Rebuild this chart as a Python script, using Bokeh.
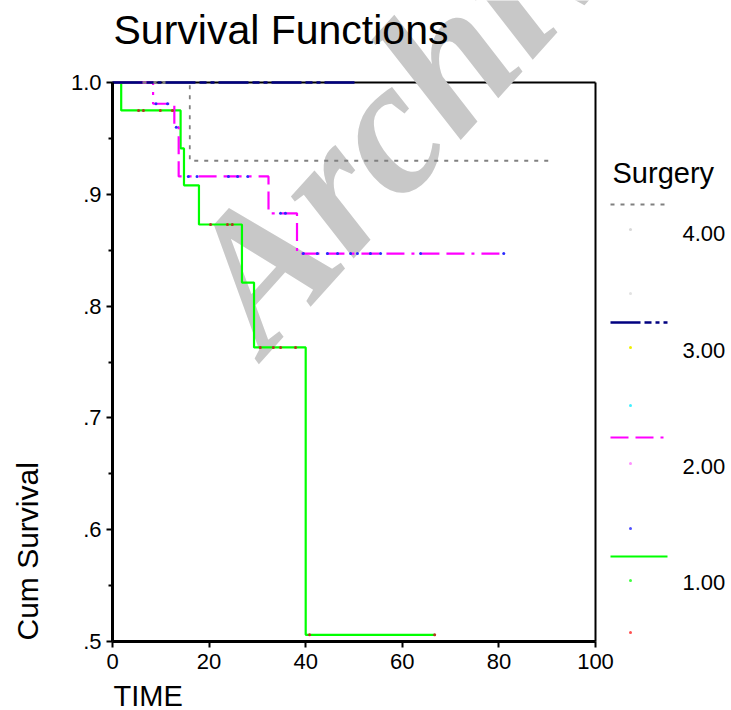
from bokeh.plotting import figure
from bokeh.models import Range1d, FixedTicker, CustomJSTickFormatter, Label, LinearAxis
from bokeh.core.properties import value
from bokeh.embed import file_html
from bokeh.resources import INLINE

# ---------------- data ----------------
group_labels = ["4.00", "3.00", "2.00", "1.00"]

g1_time = [0, 1.8, 14.1, 14.8, 17.9, 26.8, 29.3, 40.0]
g1_surv = [1.0, 0.975, 0.941, 0.908, 0.873, 0.821, 0.763, 0.506]
g1_end = 66.7

g2_time = [0, 8.4, 12.8, 13.7, 32.3, 38.2]
g2_surv = [1.0, 0.981, 0.960, 0.916, 0.883, 0.847]
g2_end = 81.0

g3_time = [0]
g3_surv = [1.0]
g3_end = 50.9

g4_time = [0, 16.0]
g4_surv = [1.0, 0.930]
g4_end = 90.3

g1_cens_time = [5.4, 6.4, 9.9, 12.4, 20.3, 23.8, 24.8, 30.6, 33.3, 34.8, 37.9, 40.8, 66.7]
g1_cens_surv = [0.975, 0.975, 0.975, 0.975, 0.873, 0.873, 0.873, 0.763, 0.763, 0.763, 0.763, 0.506, 0.506]

g2_cens_time = [9.0, 11.4, 13.2, 15.7, 17.5, 24.0, 25.9, 28.0, 34.8, 35.8, 39.5, 42.4, 44.5,
                46.6, 49.3, 50.7, 53.4, 55.5, 63.8, 81.0]
g2_cens_surv = [0.981, 0.981, 0.960, 0.916, 0.916, 0.916, 0.916, 0.916, 0.883, 0.883, 0.847, 0.847, 0.847,
                0.847, 0.847, 0.847, 0.847, 0.847, 0.847, 0.847]

x_min, x_max = 0, 100
y_min, y_max = 0.5, 1.0
x_ticks = [0, 20, 40, 60, 80, 100]
y_ticks = [0.5, 0.6, 0.7, 0.8, 0.9, 1.0]
y_minor = [0.55, 0.65, 0.75, 0.85, 0.95]

title_text = "Survival Functions"
x_label = "TIME"
y_label = "Cum Survival"
legend_title = "Surgery"
watermark = "Archive"

# ---------------- layout (pixels) & styles ----------------
FONT = "Liberation Sans"
C1, C2, C3, C4 = "#00ff00", "#ff00ff", "#000080", "#808080"
D1, D2, D3, D4 = "solid", "18 7 18 7 3 7", "30 4 7 4 4 4", "4 6"

AX_L, AX_R, AX_T, AX_B = 112, 595, 82, 641     # pixel box of the axes rectangle
W, H = 727, 710
sx = (AX_R - AX_L) / (x_max - x_min)
sy = (AX_B - AX_T) / (y_max - y_min)

def px_x(px):
    return x_min + (px - AX_L) / sx

def px_y(py):
    return y_max - (py - AX_T) / sy

p = figure(width=W, height=H, x_range=Range1d(px_x(0), px_x(W)), y_range=Range1d(px_y(H), px_y(0)),
           output_backend="svg", toolbar_location=None, min_border=0)
p.grid.visible = False
p.outline_line_color = None
p.background_fill_color = "white"
p.border_fill_color = "white"

p.xaxis.ticker = FixedTicker(ticks=x_ticks, minor_ticks=[])
p.xaxis.bounds = (x_min, x_max)
p.xaxis.fixed_location = y_min
p.yaxis.ticker = FixedTicker(ticks=y_ticks, minor_ticks=y_minor)
p.yaxis.bounds = (y_min, y_max)
p.yaxis.fixed_location = x_min
p.yaxis.formatter = CustomJSTickFormatter(code="""
    const s = tick.toFixed(1);
    return tick >= 1 ? s : s.substring(1);
""")
for ax in (p.xaxis[0], p.yaxis[0]):
    ax.axis_line_width = 3
    ax.axis_line_color = "black"
    ax.major_tick_in = 0
    ax.major_tick_out = 6
    ax.major_tick_line_width = 2
    ax.minor_tick_in = 0
    ax.minor_tick_out = 4
    ax.minor_tick_line_width = 2
    ax.major_label_text_font = FONT
    ax.major_label_text_font_size = "22px"
    ax.major_label_text_color = "black"
p.xaxis.minor_tick_line_color = None
p.yaxis.major_label_standoff = 5
p.xaxis.major_label_standoff = 6

# box edges at the top (survival 1.0) and right (time 100)
top_edge = LinearAxis(fixed_location=y_max, bounds=(x_min, x_max), ticker=FixedTicker(ticks=[]),
                      axis_line_width=2, axis_line_color="black", major_label_text_alpha=0,
                      level="underlay")
p.add_layout(top_edge, "above")
right_edge = LinearAxis(fixed_location=x_max, bounds=(y_min, y_max), ticker=FixedTicker(ticks=[]),
                        axis_line_width=2, axis_line_color="black", major_label_text_alpha=0)
p.add_layout(right_edge, "right")

# watermark under the curves
p.add_layout(Label(x=px_x(217), y=px_y(313), text=watermark, angle=48, angle_units="deg",
                   text_font="Liberation Serif", text_font_style="bold italic",
                   text_font_size="192px", text_color="#c8c8c8", text_baseline="alphabetic",
                   level="underlay"))

def steps(t, s, end):
    return list(t) + [end], list(s) + [s[-1]]

x1, y1 = steps(g1_time, g1_surv, g1_end)
x2, y2 = steps(g2_time, g2_surv, g2_end)
x3, y3 = steps(g3_time, g3_surv, g3_end)
x4, y4 = steps(g4_time, g4_surv, g4_end)

p.step(x1, y1, mode="after", line_color=C1, line_width=2.2, line_dash=D1)
p.step(x2, y2, mode="after", line_color=C2, line_width=2.2, line_dash=D2)
p.step(x4, y4, mode="after", line_color=C4, line_width=1.8, line_dash=D4)
p.step(x3, y3, mode="after", line_color=C3, line_width=2.5, line_dash=D3)

p.scatter(g1_cens_time, g1_cens_surv, size=3, color="#b03a20", line_width=0)
p.scatter(g2_cens_time, g2_cens_surv, size=3, color="#2a2aff", line_width=0)

# chart title, axis titles
p.text(x=[px_x(113)], y=[px_y(29)], text=[title_text], text_font=value(FONT), text_font_size="41px",
       text_color="black", text_baseline="middle", text_align="left")
p.text(x=[px_x(113)], y=[px_y(695)], text=[x_label], text_font=value(FONT), text_font_size="29px",
       text_color="black", text_baseline="middle", text_align="left")
p.text(x=[px_x(27)], y=[px_y(640)], text=[y_label], angle=90, angle_units="deg", text_font=value(FONT),
       text_font_size="30px", text_color="black", text_baseline="middle", text_align="left")

# ---------------- legend (pixel layout converted through the plot scales) ----------------
p.text(x=[px_x(612)], y=[px_y(172)], text=[legend_title], text_font=value(FONT), text_font_size="29px",
       text_baseline="middle", text_color="black")

line_rows = [204, 322, 437, 556]
label_rows = [233, 350, 466, 582]
styles = [(C4, D4, 1.8), (C3, D3, 2.5), (C2, D2, 2.2), (C1, D1, 2.2)]
for yy, (c, d, w) in zip(line_rows, styles):
    p.line([px_x(610), px_x(667)], [px_y(yy), px_y(yy)], line_color=c, line_dash=d, line_width=w)
p.text(x=[px_x(682)] * 4, y=[px_y(v) for v in label_rows], text=group_labels, text_font=value(FONT),
       text_font_size="22px", text_baseline="middle", text_color="black")

dot_rows = [229, 293, 347, 405, 463, 528, 580, 632]
dot_colors = ["#d8d8d8", "#e2e2e2", "#f0f000", "#40f0ff", "#ff90ff", "#5050ff", "#40ff40", "#ff5050"]
p.scatter([px_x(630)] * len(dot_rows), [px_y(v) for v in dot_rows], size=3, color=dot_colors, line_width=0)

open("out.html", "w").write(file_html(p, INLINE))
